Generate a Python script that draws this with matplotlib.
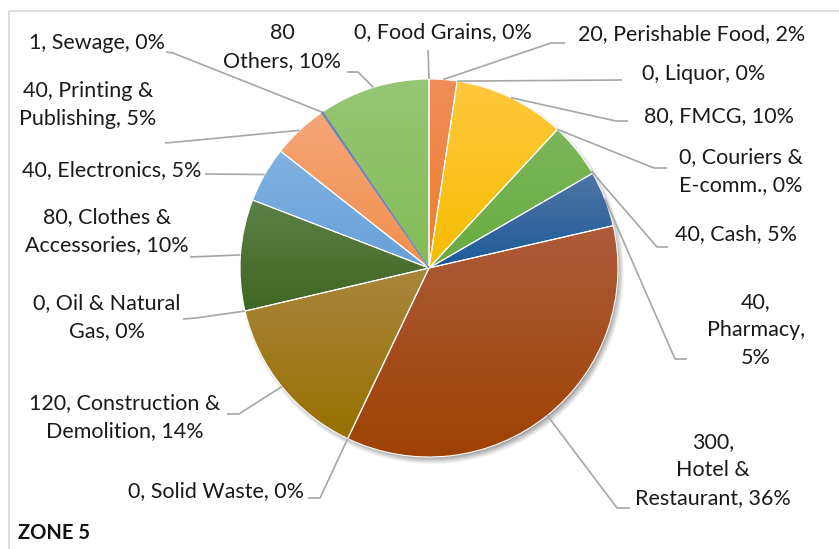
import numpy as np
import matplotlib
matplotlib.use("Agg")
import matplotlib.pyplot as plt
from matplotlib.colors import to_rgb

W, H = 839, 549
CX, CY, R = 429, 268, 189   # pie centre / radius in pixels (y down)

categories = ["Food Grains", "Perishable Food", "Liquor", "FMCG", "Couriers &\nE-comm.",
              "Cash", "Pharmacy", "Hotel &\nRestaurant", "Solid Waste",
              "Construction &\nDemolition", "Oil & Natural\nGas", "Clothes &\nAccessories",
              "Electronics", "Printing &\nPublishing", "Sewage", "Others"]
values = [0, 20, 0, 80, 0, 40, 40, 300, 0, 120, 0, 80, 40, 40, 1, 80]

# slice colours: (top of gradient, bottom of gradient)
colors = [("#5b8fd0", "#4472c4"), ("#f08d58", "#ed7d31"), ("#b0b0b0", "#a5a5a5"),
          ("#ffc83e", "#f5bd00"), ("#6aa6dc", "#5b9bd5"), ("#7cb75c", "#68aa3e"),
          ("#4f76a6", "#1d5a98"), ("#ac5c3b", "#9e4103"), ("#707070", "#636363"),
          ("#a8863e", "#987000"), ("#3f6e9a", "#255e91"), ("#5c8047", "#3e6623"),
          ("#80b2e2", "#67a0d9"), ("#f5a678", "#f18f4d"), ("#6f86b0", "#6f86b0"),
          ("#97c775", "#83bb56")]

# label text centre (pixels) and leader polyline (label side points)
label_pos = [(443, 32), (692, 34), (704, 74), (719, 116), (741, 171), (736, 234),
             (756, 330), (713, 470), (216, 491), (125, 417), (107, 317), (107, 231),
             (112, 170), (88, 105), (97, 43), (282, 47)]
leaders = [[(428, 50)], [(565, 43), (551, 43)], [(622, 80)], [(628, 121), (616, 121)],
           [(667, 168), (654, 168)], [(668, 247), (657, 247)], [(687, 359), (675, 359)],
           [(630, 508), (617, 508)], [(308, 498), (320, 498)], [(227, 414), (239, 414)],
           [(183, 319), (196, 318)], [(190, 257)], [(205, 174)], [(165, 143), (177, 142)],
           [(166, 52), (173, 53)], [(347, 72), (358, 72)]]
attach = [0.5] * 16
attach[5] = 0.95

plt.rcParams['font.family'] = ['Lato', 'DejaVu Sans']

fig = plt.figure(figsize=(W / 100, H / 100), dpi=100)
ax = fig.add_axes([0, 0, 1, 1])


def P(x, y):
    return x, H - y


total = sum(values)
wedges, _ = ax.pie(values, startangle=90, counterclock=False, radius=R,
                   center=P(CX, CY), colors=[c[1] for c in colors],
                   wedgeprops=dict(edgecolor="white", linewidth=0.8))

# soft shadow under the pie
sx, sy = P(CX + 3, CY + 4)
gx, gy = np.meshgrid(np.linspace(sx - R - 20, sx + R + 20, 300),
                     np.linspace(sy + R + 20, sy - R - 20, 300))
d = np.hypot(gx - sx, gy - sy)
a = np.clip((R + 4 - d) / 9, 0, 1) * 0.45
shadow = np.zeros((300, 300, 4))
shadow[..., 3] = a
ax.imshow(shadow, extent=(sx - R - 20, sx + R + 20, sy - R - 20, sy + R + 20),
          zorder=0.2, interpolation="bilinear")

# gradient fills clipped to each wedge
for w, v, (top, bot) in zip(wedges, values, colors):
    if v == 0:
        w.set_visible(False)
        continue
    if v / total < 0.005:
        # hairline slice: just draw it in its own colour
        w.set_edgecolor(bot)
        w.set_linewidth(1.0)
        w.set_zorder(1.2)
        continue
    verts = w.get_patch_transform().transform(w.get_path().vertices)
    y0, y1 = verts[:, 1].min(), verts[:, 1].max()
    x0, x1 = verts[:, 0].min(), verts[:, 0].max()
    t = np.linspace(0, 1, 200)[:, None]
    grad = (1 - t) * np.array(to_rgb(top)) + t * np.array(to_rgb(bot))
    im = ax.imshow(grad[:, None, :], extent=(x0, x1, y0, y1), aspect="auto",
                   zorder=0.5, interpolation="bilinear")
    im.set_clip_path(w)
    w.set_facecolor("none")
    w.set_zorder(1)

# labels and leader lines
cum = np.concatenate([[0], np.cumsum(values)])
for i, name in enumerate(categories):
    ang = np.radians(360 * (cum[i] + attach[i] * values[i]) / total)
    px, py = CX + R * np.sin(ang), CY - R * np.cos(ang)
    pts = leaders[i] + [(px, py)]
    ax.plot([p[0] for p in pts], [H - p[1] for p in pts], color="#a6a6a6",
            lw=1.2, zorder=2, solid_capstyle="butt")
    pct = round(100 * values[i] / total)
    if name == "Others":
        txt = f"{values[i]}\nOthers, {pct}%"
    elif name == "Pharmacy":
        txt = f"{values[i]},\nPharmacy,\n{pct}%"
    elif name.startswith("Hotel"):
        txt = f"{values[i]},\n{name}, {pct}%"
    else:
        txt = f"{values[i]}, {name}, {pct}%"
    ax.text(*P(*label_pos[i]), txt, ha="center", va="center", fontsize=15.5,
            color="#1a1a1a", linespacing=1.5, zorder=3)

ax.text(*P(18, 533), "ZONE 5", fontsize=14.5, fontweight="bold", va="center",
        ha="left", color="#111111")

# chart area border (partially cropped)
ax.plot([9, 9, W], [0, H - 11, H - 11], color="#d9d9d9", lw=1.2)

ax.set_xlim(0, W)
ax.set_ylim(0, H)
ax.axis("off")
fig.savefig("out.png", dpi=100)
